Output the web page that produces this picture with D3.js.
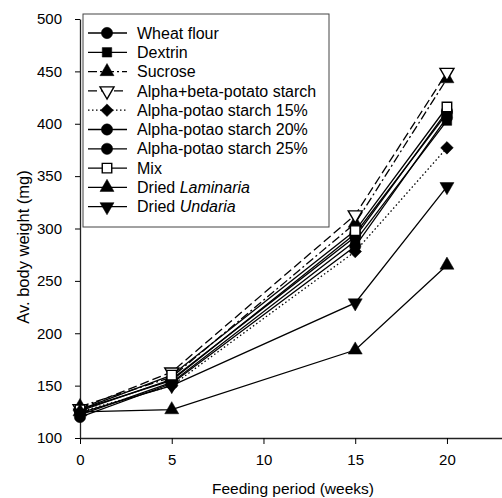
<!DOCTYPE html>
<html>
<head>
<meta charset="utf-8">
<script src="https://cdn.jsdelivr.net/npm/d3@7"></script>
<style>
  body { margin: 0; background: #fff; }
  svg { font-family: "Liberation Sans", Arial, sans-serif; }
</style>
</head>
<body>
<svg width="502" height="498"></svg>
<script>
var weeks = [0, 5, 15, 20];

var seriesNames = ["Wheat flour", "Dextrin", "Sucrose", "Alpha+beta-potato starch",
  "Alpha-potao starch 15%", "Alpha-potao starch 20%", "Alpha-potao starch 25%",
  "Mix", "Dried Laminaria", "Dried Undaria"];

var wheatFlour = [127, 155, 295, 410];
var dextrin    = [122, 153, 288, 403];
var sucrose    = [130, 158, 305, 443];
var alphaBeta  = [128, 163, 313, 449];
var alpha15    = [125, 150, 278, 377];
var alpha20    = [120, 152, 283, 406];
var alpha25    = [126, 156, 292, 412];
var mix        = [127, 160, 298, 416];
var laminaria  = [125, 127, 184, 265];
var undaria    = [124, 150, 229, 340];

var yTicks = [100, 150, 200, 250, 300, 350, 400, 450, 500];
var xTicks = [0, 5, 10, 15, 20];

var values = [wheatFlour, dextrin, sucrose, alphaBeta, alpha15, alpha20, alpha25, mix, laminaria, undaria];

// marker shape, open/filled, dash style per series
var styles = [
  { sym: "circle",   open: false, dash: null },
  { sym: "square",   open: false, dash: null },
  { sym: "triangle", open: false, dash: "9,3,2,3" },
  { sym: "tridown",  open: true,  dash: "9,4" },
  { sym: "diamond",  open: false, dash: "1.5,2.5" },
  { sym: "circle",   open: false, dash: null },
  { sym: "circle",   open: false, dash: null },
  { sym: "square",   open: true,  dash: null },
  { sym: "triangle", open: false, dash: null },
  { sym: "tridown",  open: false, dash: null }
];

var svg = d3.select("svg");

var x = d3.scaleLinear().domain([0, 23]).range([80, 502]);
var y = d3.scaleLinear().domain([100, 500]).range([438, 19]);

function markerPath(s) {
  if (s === "circle") return d3.symbol(d3.symbolCircle, 100)();
  if (s === "square") return d3.symbol(d3.symbolSquare, 90)();
  if (s === "triangle") return d3.symbol(d3.symbolTriangle, 85)();
  if (s === "diamond") return d3.symbol(d3.symbolSquare, 80)();
  if (s === "tridown") return d3.symbol(d3.symbolTriangle, 85)();
}
function markerRot(s) {
  if (s === "tridown") return " rotate(180)";
  if (s === "diamond") return " rotate(45)";
  return "";
}

// axes
var xAxis = svg.append("g")
    .attr("transform", "translate(0," + y(100) + ")")
    .call(d3.axisBottom(x).tickValues(xTicks).tickSize(6).tickPadding(10).tickSizeOuter(0));
xAxis.select(".domain").attr("stroke", "#222").attr("stroke-width", 1.3);
xAxis.selectAll("text").attr("font-size", 15).attr("fill", "#000")
    .attr("font-family", "Liberation Sans, Arial, sans-serif");

var yAxis = svg.append("g")
    .attr("transform", "translate(" + x(0) + ",0)")
    .call(d3.axisLeft(y).tickValues(yTicks).tickSize(5).tickPadding(13).tickSizeOuter(0));
yAxis.select(".domain").attr("stroke", "#222").attr("stroke-width", 1.3);
yAxis.selectAll("text").attr("font-size", 15).attr("fill", "#000")
    .attr("font-family", "Liberation Sans, Arial, sans-serif");

svg.append("text")
    .attr("x", 293).attr("y", 494)
    .attr("text-anchor", "middle")
    .attr("font-size", 15.5)
    .text("Feeding period (weeks)");

svg.append("text")
    .attr("transform", "translate(29,247) rotate(-90)")
    .attr("text-anchor", "middle")
    .attr("font-size", 16.5)
    .text("Av. body weight (mg)");

// lines
var line = d3.line()
    .x(function(d, i) { return x(weeks[i]); })
    .y(function(d) { return y(d); });

var series = svg.append("g").selectAll("g")
  .data(values)
  .enter().append("g");

series.append("path")
    .attr("d", line)
    .attr("fill", "none")
    .attr("stroke", "#000")
    .attr("stroke-width", 1.3)
    .attr("stroke-dasharray", function(d, i) { return styles[i].dash; });

series.each(function(d, i) {
  var st = styles[i];
  d3.select(this).selectAll("path.m")
    .data(d)
    .enter().append("path")
      .attr("class", "m")
      .attr("d", markerPath(st.sym))
      .attr("transform", function(v, j) { return "translate(" + x(weeks[j]) + "," + y(v) + ")" + markerRot(st.sym); })
      .attr("fill", st.open ? "#fff" : "#000")
      .attr("stroke", "#000")
      .attr("stroke-width", st.open ? 1.4 : 0.5);
});

// legend
var legend = svg.append("g");
legend.append("rect")
    .attr("x", 83).attr("y", 14)
    .attr("width", 246).attr("height", 213)
    .attr("fill", "#fff")
    .attr("stroke", "#444")
    .attr("stroke-width", 1);

var item = legend.selectAll("g.item")
  .data(seriesNames)
  .enter().append("g")
    .attr("class", "item")
    .attr("transform", function(d, i) { return "translate(0," + (33 + i * 19.3) + ")"; });

item.append("line")
    .attr("x1", 88).attr("x2", 127)
    .attr("stroke", "#000")
    .attr("stroke-width", 1.3)
    .attr("stroke-dasharray", function(d, i) { return styles[i].dash; });

item.append("path")
    .attr("d", function(d, i) { return markerPath(styles[i].sym); })
    .attr("transform", function(d, i) { return "translate(107,0)" + markerRot(styles[i].sym); })
    .attr("fill", function(d, i) { return styles[i].open ? "#fff" : "#000"; })
    .attr("stroke", "#000")
    .attr("stroke-width", function(d, i) { return styles[i].open ? 1.4 : 0.5; });

item.append("text")
    .attr("x", 137)
    .attr("dy", "0.35em")
    .attr("font-size", 16)
    .each(function(d) {
      var t = d3.select(this);
      if (d.indexOf("Dried ") === 0) {
        t.append("tspan").text("Dried ");
        t.append("tspan").attr("font-style", "italic").text(d.slice(6));
      } else {
        t.text(d);
      }
    });
</script>
</body>
</html>
